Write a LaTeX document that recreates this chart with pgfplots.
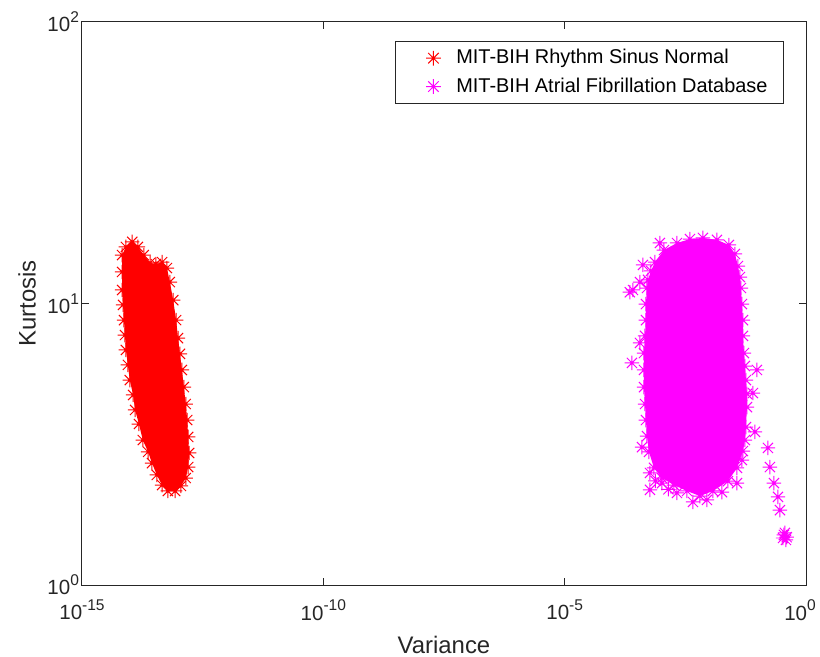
\documentclass[border=0pt]{standalone}
\usepackage{fontspec}
\setmainfont{Liberation Sans}
\usepackage{pgfplots}
\usepackage{pgfplotstable}
\pgfplotsset{compat=1.18}

\definecolor{axgray}{gray}{0.15}
\definecolor{nsrred}{RGB}{255,0,0}
\definecolor{afmag}{RGB}{255,0,255}

% MATLAB-like '*' marker (plus and cross together)
\pgfdeclareplotmark{mstar}{%
  \pgfpathmoveto{\pgfqpoint{-\pgfplotmarksize}{0pt}}%
  \pgfpathlineto{\pgfqpoint{\pgfplotmarksize}{0pt}}%
  \pgfpathmoveto{\pgfqpoint{0pt}{-\pgfplotmarksize}}%
  \pgfpathlineto{\pgfqpoint{0pt}{\pgfplotmarksize}}%
  \pgfpathmoveto{\pgfqpoint{-0.707\pgfplotmarksize}{-0.707\pgfplotmarksize}}%
  \pgfpathlineto{\pgfqpoint{0.707\pgfplotmarksize}{0.707\pgfplotmarksize}}%
  \pgfpathmoveto{\pgfqpoint{-0.707\pgfplotmarksize}{0.707\pgfplotmarksize}}%
  \pgfpathlineto{\pgfqpoint{0.707\pgfplotmarksize}{-0.707\pgfplotmarksize}}%
  \pgfusepathqstroke}

\newcommand\powten[1]{\pgfmathparse{int(round(#1))}%
  10\raisebox{0.45em}{\fontsize{7.8}{8}\selectfont\pgfmathresult}}

\pgfplotsset{
  mstarlegend/.style={
    legend image code/.code={\path (0bp,0bp) (21.7bp,0bp);
      \draw[##1, mark size=3.7bp] plot coordinates {(12.5bp,0bp)};}},
}

% columns: log10(variance)  log10(kurtosis)
% outer points of the normal sinus rhythm cluster (its dense core is solid)
\pgfplotstableread{
lv lk
-14.17 1.172
-14.09 1.201
-13.96 1.219
-13.84 1.201
-13.72 1.172
-13.59 1.144
-13.47 1.140
-13.34 1.147
-13.24 1.126
-13.18 1.076
-13.11 1.012
-13.05 0.941
-13.01 0.877
-12.97 0.821
-12.93 0.764
-12.89 0.703
-12.85 0.643
-12.82 0.586
-12.80 0.526
-12.78 0.469
-12.80 0.419
-12.85 0.380
-12.95 0.352
-13.07 0.334
-13.22 0.334
-13.34 0.355
-13.45 0.391
-13.55 0.433
-13.63 0.473
-13.74 0.515
-13.82 0.572
-13.90 0.622
-13.94 0.675
-14.01 0.728
-14.05 0.782
-14.09 0.835
-14.11 0.888
-14.13 0.941
-14.15 0.995
-14.17 1.048
-14.17 1.112
}\nsredge

% outer points of the atrial fibrillation cluster
\pgfplotstableread{
lv lk
-3.129 1.147
-2.943 1.190
-2.673 1.215
-2.404 1.229
-2.135 1.233
-1.845 1.226
-1.596 1.208
-1.472 1.176
-1.410 1.133
-1.368 1.094
-1.347 1.055
-1.327 0.998
-1.306 0.941
-1.306 0.885
-1.285 0.824
-1.265 0.778
-1.244 0.728
-1.223 0.679
-1.223 0.632
-1.244 0.561
-1.265 0.515
-1.306 0.476
-1.430 0.416
-1.617 0.369
-1.928 0.334
-2.197 0.316
-2.466 0.334
-2.736 0.355
-2.984 0.380
-3.150 0.416
-3.253 0.473
-3.295 0.529
-3.316 0.586
-3.336 0.643
-3.357 0.703
-3.357 0.764
-3.357 0.824
-3.336 0.885
-3.316 0.941
-3.316 0.998
-3.295 1.055
-3.274 1.084
-3.212 1.116
}\afedge

% scattered atrial fibrillation points outside the core
\pgfplotstableread{
lv lk
-3.026 1.215
-3.378 1.137
-3.585 1.048
-3.440 1.076
-3.650 1.040
-3.606 0.789
-3.440 0.860
-1.016 0.764
-1.099 0.682
-1.057 0.544
-3.398 0.490
-3.233 0.398
-3.233 0.338
-3.120 0.370
-2.984 0.362
-2.850 0.340
-2.673 0.327
-2.342 0.295
-2.052 0.302
-1.741 0.330
-1.430 0.362
-1.327 0.444
-0.788 0.487
-0.747 0.419
-0.664 0.362
-0.581 0.313
-0.540 0.266
-0.457 0.178
-0.415 0.160
-0.477 0.167
-0.436 0.185
-0.400 0.170
}\afout

\begin{document}
\begin{tikzpicture}
\begin{axis}[
  name=ax,
  scale only axis,
  width=362bp, height=281.5bp,
  xmode=log, ymode=log,
  log basis x=10, log basis y=10,
  xmin=1e-15, xmax=1, ymin=1, ymax=100,
  xtick={1e-15,1e-10,1e-5},
  extra x ticks={1},
  extra x tick style={xticklabel style={xshift=-3bp}},
  ytick={1,10,100},
  xminorticks=false,
  xticklabel={\powten{\tick}},
  yticklabel={\powten{\tick}},
  tick align=inside,
  major tick length=3.5bp, minor tick length=2bp,
  axis line style={axgray, line width=0.5bp},
  tick style={axgray, line width=0.5bp},
  tick label style={font=\fontsize{10.3}{12}\selectfont, text=axgray},
  xticklabel style={yshift=-4bp},
  yticklabel style={xshift=2bp},
  label style={font=\fontsize{12}{14}\selectfont, text=axgray},
  xlabel style={yshift=-1bp},
  ylabel shift=-1bp,
  xlabel={Variance},
  ylabel={Kurtosis},
  legend cell align=left,
  legend style={at={(0.9696,0.9663)}, anchor=north east,
    draw=axgray, line width=0.5bp, inner xsep=6bp, inner ysep=2bp,
    row sep=1.5bp,
    font=\fontsize{10}{12}\selectfont},
  every axis plot/.append style={mark size=3.6bp, line width=0.5bp},
]
% dense cores
\addplot[draw=none, fill=nsrred, forget plot]
  table[x expr={10^(\thisrow{lv})}, y expr={10^(\thisrow{lk})}] {\nsredge};
\addplot[draw=none, fill=afmag, forget plot]
  table[x expr={10^(\thisrow{lv})}, y expr={10^(\thisrow{lk})}] {\afedge};

\addplot[only marks, mark=mstar, color=nsrred, mstarlegend]
  table[x expr={10^(\thisrow{lv})}, y expr={10^(\thisrow{lk})}] {\nsredge};
\addlegendentry{MIT-BIH Rhythm Sinus Normal}

\addplot[only marks, mark=mstar, color=afmag, mstarlegend]
  table[x expr={10^(\thisrow{lv})}, y expr={10^(\thisrow{lk})}] {\afedge};
\addlegendentry{MIT-BIH Atrial Fibrillation Database}
\addplot[only marks, mark=mstar, color=afmag, forget plot]
  table[x expr={10^(\thisrow{lv})}, y expr={10^(\thisrow{lk})}] {\afout};
\end{axis}
\pgfresetboundingbox
\path ([shift={(-41bp,-36bp)}]ax.south west) rectangle ([shift={(7bp,11bp)}]ax.north east);
\end{tikzpicture}
\end{document}
